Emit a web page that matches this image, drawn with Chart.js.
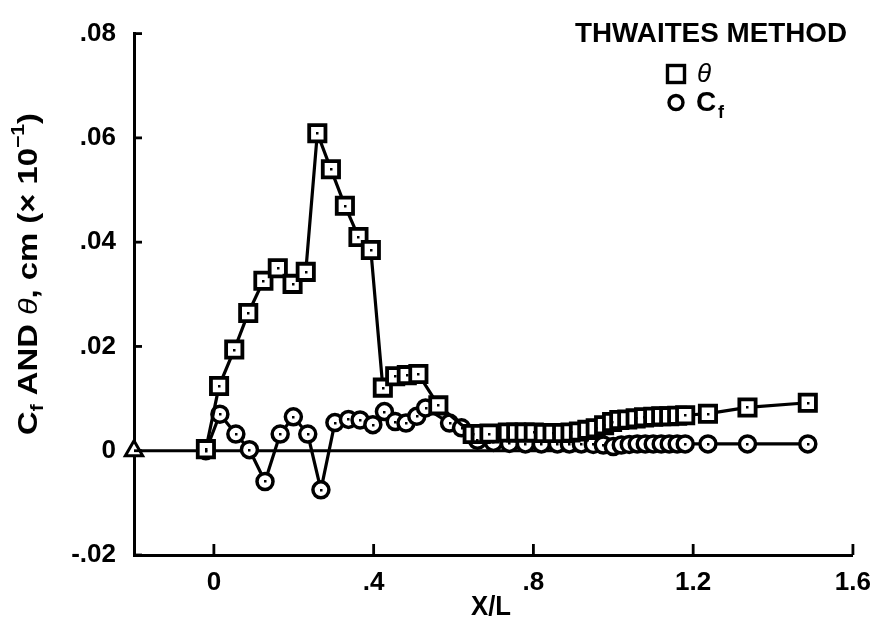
<!DOCTYPE html>
<html>
<head>
<meta charset="utf-8">
<title>Thwaites method</title>
<script src="https://cdn.jsdelivr.net/npm/chart.js@4"></script>
<style>
    html, body { margin: 0; padding: 0; background: #fff; }
    #wrap { width: 883px; height: 621px; }
</style>
</head>
<body>
<div id="wrap"><canvas id="chart" width="883" height="621"></canvas></div>
<script>
// theta (squares)
const thetaX = [-0.02, 0.013, 0.051, 0.086, 0.124, 0.16, 0.197, 0.23, 0.259, 0.293, 0.328, 0.362, 0.393,
    0.423, 0.454, 0.483, 0.512, 0.562, 0.648, 0.668, 0.69, 0.736, 0.757, 0.778, 0.801, 0.826, 0.848,
    0.872, 0.893, 0.914, 0.935, 0.956, 0.977, 0.997, 1.015, 1.035, 1.056, 1.077, 1.1, 1.12, 1.14, 1.16,
    1.18, 1.237, 1.336, 1.487];
const thetaY = [0.0003, 0.0124, 0.0194, 0.0264, 0.0326, 0.035, 0.032, 0.0343, 0.0609, 0.054, 0.047, 0.041, 0.0385,
    0.0121, 0.0143, 0.0145, 0.0147, 0.0087, 0.0032, 0.0032, 0.0033, 0.0035, 0.0035, 0.0035, 0.0035, 0.0034, 0.0034,
    0.0034, 0.0035, 0.0037, 0.004, 0.0043, 0.0049, 0.0055, 0.0059, 0.006, 0.0062, 0.0064, 0.0065, 0.0066, 0.0066, 0.0067,
    0.0068, 0.0071, 0.0083, 0.0092];

// Cf (circles)
const cfX = [-0.02, 0.015, 0.055, 0.089, 0.128, 0.166, 0.199, 0.235, 0.268, 0.303, 0.337, 0.366, 0.398,
    0.427, 0.454, 0.481, 0.508, 0.53, 0.59, 0.62, 0.66, 0.7, 0.74, 0.78, 0.82, 0.86, 0.89, 0.92, 0.95,
    0.975, 1.0, 1.02, 1.04, 1.06, 1.08, 1.1, 1.12, 1.14, 1.16, 1.18, 1.237, 1.336, 1.487];
const cfY = [0, 0.007, 0.0032, 0.0002, -0.0059, 0.0032, 0.0065, 0.0032, -0.0075, 0.0054, 0.006, 0.0059, 0.005,
    0.0075, 0.0056, 0.0053, 0.0066, 0.0082, 0.0053, 0.0044, 0.002, 0.0016, 0.0014, 0.0013, 0.0013, 0.0013, 0.0013, 0.0013, 0.0012,
    0.0011, 0.0008, 0.0011, 0.0012, 0.0013, 0.0013, 0.0013, 0.0013, 0.0013, 0.0013, 0.0013, 0.0013, 0.0013, 0.0013];

// reference line along zero, starting at the triangle on the axis
const zeroX = [-0.2, 1.0];
const zeroY = [0, 0];

const xTicks = [0, 0.4, 0.8, 1.2, 1.6];
const yTicks = [-0.02, 0, 0.02, 0.04, 0.06, 0.08];

const FONT = '"Liberation Sans", Arial, sans-serif';

function toPoints(xs, ys) {
    return xs.map((x, i) => ({ x: x, y: ys[i] }));
}

// ".08", "-.02", "1.2", "0"
function fmt(v) {
    if (Math.abs(v) < 1e-9) return '0';
    return String(Number(v.toFixed(3))).replace(/^(-?)0\./, '$1.');
}

// draw a run of text pieces along a line, squeezed to a target length
function drawPieces(ctx, pieces, targetLen) {
    let total = 0;
    pieces.forEach(p => {
        ctx.font = p.font;
        p.w = ctx.measureText(p.text).width;
        total += p.w;
    });
    const sx = targetLen / total;
    ctx.scale(sx, 1);
    let x = -total / 2;
    pieces.forEach(p => {
        ctx.font = p.font;
        ctx.fillText(p.text, x, p.dy || 0);
        x += p.w;
    });
}

const decorPlugin = {
    id: 'decor',
    afterDatasetsDraw(chart) {
        const ctx = chart.ctx;
        ctx.save();
        ctx.fillStyle = '#000';
        chart.data.datasets.forEach((ds, i) => {
            if (!ds.centerDot) return;
            chart.getDatasetMeta(i).data.forEach(pt => {
                ctx.fillRect(Math.round(pt.x) - 1, Math.round(pt.y) - 1, 2.5, 2.5);
            });
        });
        ctx.restore();
    },
    afterDraw(chart) {
        const ctx = chart.ctx;
        const xs = chart.scales.x;
        const ys = chart.scales.y;
        const area = chart.chartArea;
        ctx.save();
        ctx.strokeStyle = '#000';
        ctx.lineWidth = 2.8;

        // inward tick marks
        xTicks.forEach(v => {
            const px = xs.getPixelForValue(v);
            ctx.beginPath();
            ctx.moveTo(px, area.bottom);
            ctx.lineTo(px, area.bottom - 11);
            ctx.stroke();
        });
        yTicks.forEach(v => {
            const py = ys.getPixelForValue(v);
            ctx.beginPath();
            ctx.moveTo(area.left, py);
            ctx.lineTo(area.left + 8, py);
            ctx.stroke();
        });

        ctx.fillStyle = '#000';

        // legend
        ctx.textBaseline = 'alphabetic';
        ctx.save();
        ctx.translate(711, 42);
        drawPieces(ctx, [{ text: 'THWAITES METHOD', font: 'bold 27px ' + FONT }], 272);
        ctx.restore();

        ctx.lineWidth = 3.4;
        ctx.strokeRect(667.5, 65.5, 17, 17);
        ctx.beginPath();
        ctx.arc(676, 102.5, 7, 0, Math.PI * 2);
        ctx.stroke();

        ctx.font = 'italic 26px ' + FONT;
        ctx.fillText('\u03b8', 697, 82);
        ctx.font = 'bold 28px ' + FONT;
        ctx.fillText('C', 696, 111);
        ctx.font = 'bold 18px ' + FONT;
        ctx.fillText('f', 718, 118);

        // x axis title
        ctx.textAlign = 'left';
        ctx.save();
        ctx.translate(491, 615);
        drawPieces(ctx, [{ text: 'X/L', font: 'bold 27px ' + FONT }], 40);
        ctx.restore();

        // y axis title, rotated
        ctx.save();
        ctx.translate(27, 274);
        ctx.rotate(-Math.PI / 2);
        const big = 'bold 28px ' + FONT;
        const small = 'bold 18px ' + FONT;
        drawPieces(ctx, [
            { text: 'C', font: big, dy: 10 },
            { text: 'f', font: small, dy: 16 },
            { text: ' AND ', font: big, dy: 10 },
            { text: '\u03b8', font: 'italic 26px ' + FONT, dy: 10 },
            { text: ', cm (\u00d7 10', font: big, dy: 10 },
            { text: '\u22121', font: small, dy: -3 },
            { text: ')', font: big, dy: 10 }
        ], 322);
        ctx.restore();

        ctx.restore();
    }
};

new Chart(document.getElementById('chart').getContext('2d'), {
    type: 'scatter',
    data: {
        datasets: [{
            label: '\u03b8',
            data: toPoints(thetaX, thetaY),
            showLine: true,
            borderColor: '#000',
            borderWidth: 3.2,
            pointStyle: 'rect',
            pointRadius: 11.5,
            pointBorderWidth: 3.8,
            pointBackgroundColor: '#fff',
            pointBorderColor: '#000',
            centerDot: true,
            clip: false
        }, {
            label: 'Cf',
            data: toPoints(cfX, cfY),
            showLine: true,
            borderColor: '#000',
            borderWidth: 3.2,
            pointStyle: 'circle',
            pointRadius: 8,
            pointBorderWidth: 3.5,
            pointBackgroundColor: '#fff',
            pointBorderColor: '#000',
            centerDot: true,
            clip: false
        }, {
            label: 'zero',
            data: toPoints(zeroX, zeroY),
            showLine: true,
            borderColor: '#000',
            borderWidth: 3,
            pointStyle: 'triangle',
            pointRadius: [10, 0],
            pointBorderWidth: 3,
            pointBackgroundColor: '#fff',
            pointBorderColor: '#000',
            clip: false
        }]
    },
    options: {
        responsive: false,
        animation: false,
        events: [],
        layout: {
            padding: { left: 0, right: 25, top: 19, bottom: 0 }
        },
        plugins: {
            legend: { display: false },
            tooltip: { enabled: false }
        },
        scales: {
            x: {
                type: 'linear',
                min: -0.2,
                max: 1.6,
                afterBuildTicks: scale => { scale.ticks = xTicks.map(v => ({ value: v })); },
                afterFit: scale => { scale.height = 66; },
                grid: { display: false, drawTicks: false },
                border: { display: true, color: '#000', width: 3 },
                ticks: {
                    color: '#000',
                    padding: 12,
                    maxRotation: 0,
                    font: { family: FONT, size: 26, weight: 'bold' },
                    callback: v => fmt(v)
                }
            },
            y: {
                type: 'linear',
                min: -0.02,
                max: 0.08,
                afterBuildTicks: scale => { scale.ticks = yTicks.map(v => ({ value: v })); },
                afterFit: scale => { scale.width = 134; },
                grid: { display: false, drawTicks: false },
                border: { display: true, color: '#000', width: 3 },
                ticks: {
                    color: '#000',
                    padding: 18,
                    font: { family: FONT, size: 26, weight: 'bold' },
                    callback: v => fmt(v)
                }
            }
        }
    },
    plugins: [decorPlugin]
});
</script>
</body>
</html>
